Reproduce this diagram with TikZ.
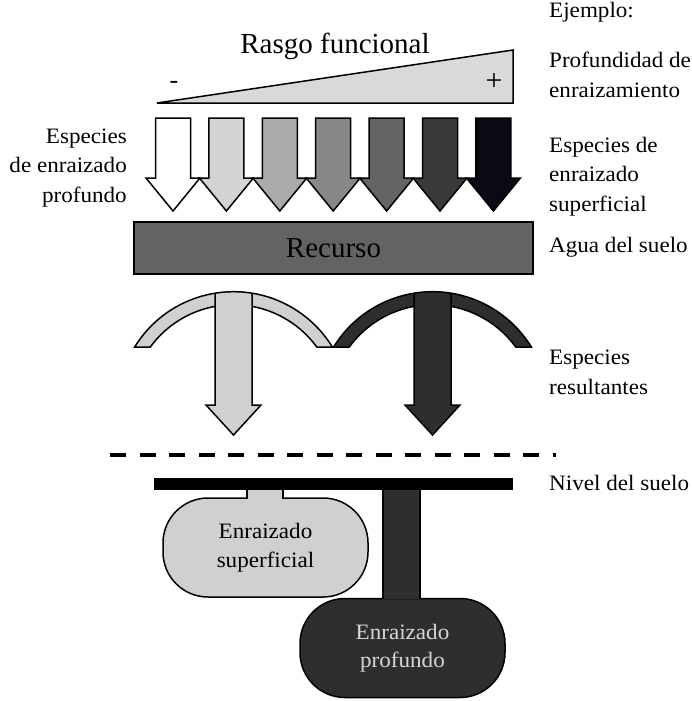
\documentclass[tikz,border=0pt]{standalone}
\usepackage{fontspec}
\setmainfont{Liberation Serif}
\newfontfamily\widefont[FakeStretch=1.05]{Liberation Serif}
\usepackage{tikz}
\usetikzlibrary{positioning}
\definecolor{shadeA}{RGB}{212,212,212}
\definecolor{shadeB}{RGB}{170,170,170}
\definecolor{shadeC}{RGB}{136,136,136}
\definecolor{shadeD}{RGB}{100,100,100}
\definecolor{shadeE}{RGB}{58,58,58}
\definecolor{shadeF}{RGB}{10,10,20}
\definecolor{wedgegray}{RGB}{217,217,217}
\definecolor{resourcegray}{RGB}{99,99,99}
\definecolor{shallowgray}{RGB}{208,208,208}
\definecolor{deepgray}{RGB}{46,46,46}
\definecolor{paletext}{RGB}{214,214,214}
\tikzset{
  edge/.style={draw=black, line width=1.5pt, line join=miter},
  sidetext/.style={font=\widefont\fontsize{22}{29.5}\selectfont, inner sep=0pt, align=left, anchor=base west},
  lefttext/.style={font=\widefont\fontsize{22}{29.5}\selectfont, inner sep=0pt, align=right, anchor=base east},
  bigtext/.style={font=\fontsize{29}{33}\selectfont, inner sep=0pt, anchor=base},
  rootbox/.style={edge, rounded corners=45pt, minimum width=205pt, minimum height=99pt,
    inner sep=0pt, align=center, font=\widefont\fontsize{22}{28.5}\selectfont}
}

\begin{document}
\begin{tikzpicture}[x=1pt, y=-1pt]
\useasboundingbox (0,0) rectangle (691,701);

% gradient of the trait
\draw[edge, fill=wedgegray] (157,103) -- (513,50) -- (513,103) -- cycle;
\node[bigtext] (trait) at (335,53) {Rasgo funcional};
\node[font=\fontsize{26}{26}\selectfont, inner sep=0pt] (minus) at (174,85) {-};
\node[font=\fontsize{30}{30}\selectfont, inner sep=0pt] (plus) at (494,82) {+};

% species along the gradient
\foreach \col [count=\i from 0] in {white,shadeA,shadeB,shadeC,shadeD,shadeE,shadeF}{
  \pgfmathsetmacro{\cx}{173+53.4*\i}
  \draw[edge, fill=\col] (\cx-17.5,118) -- (\cx+17.5,118) -- (\cx+17.5,178) -- (\cx+27,178)
    -- (\cx,211) -- (\cx-27,178) -- (\cx-17.5,178) -- cycle;
}

\node[edge, fill=resourcegray, minimum width=399pt, minimum height=52pt, inner sep=0pt,
  font=\fontsize{29}{33}\selectfont] (resource) at (333.5,248) {Recurso};

% resulting species
\foreach \cx/\col in {233.5/shallowgray, 432.5/deepgray}{
  \draw[edge, fill=\col] ([shift={(\cx,407.7)}]148.45:116pt) arc[start angle=148.45, end angle=31.55, radius=116pt]
    -- ([shift={(\cx,407.7)}]36.1:103pt) arc[start angle=36.1, end angle=143.9, radius=103pt] -- cycle;
  \draw[edge, fill=\col] (\cx-18.5,294) -- (\cx-18.5,405) -- (\cx-27.5,405) -- (\cx,435)
    -- (\cx+27.5,405) -- (\cx+18.5,405) -- (\cx+18.5,294);
}

\draw[line width=4.5pt, dash pattern=on 16pt off 13.5pt] (110,455) -- (556,455);

% soil and roots
\node[fill=black, minimum width=359pt, minimum height=12pt, inner sep=0pt] (soil) at (333.5,484) {};
\node[rootbox, fill=shallowgray] (shallow) at (265.5,547.5) {Enraizado\\superficial};
\node[rootbox, fill=deepgray, text=paletext] (deep) at (402.5,648) {Enraizado\\profundo};
\fill[shallowgray] (247,490) rectangle (283,499.5);
\draw[edge] (247,490) -- (247,498.5) (283,490) -- (283,498.5);
\fill[deepgray] (383,490) rectangle (420,599);
\draw[edge] (383,490) -- (383,598.5) (420,490) -- (420,598.5);

% labels (base = last line)
\node[lefttext] (deeplabel) at (127,202) {Especies\\de enraizado\\profundo};
\node[sidetext] (example) at (549,18) {Ejemplo:};
\node[sidetext] (depth) at (549,97) {Profundidad de\\enraizamiento};
\node[sidetext] (shallowlabel) at (549,211) {Especies de\\enraizado\\superficial};
\node[sidetext] (water) at (549,252) {Agua del suelo};
\node[sidetext] (result) at (549,394) {Especies\\resultantes};
\node[sidetext] (level) at (549,490) {Nivel del suelo};
\end{tikzpicture}
\end{document}
